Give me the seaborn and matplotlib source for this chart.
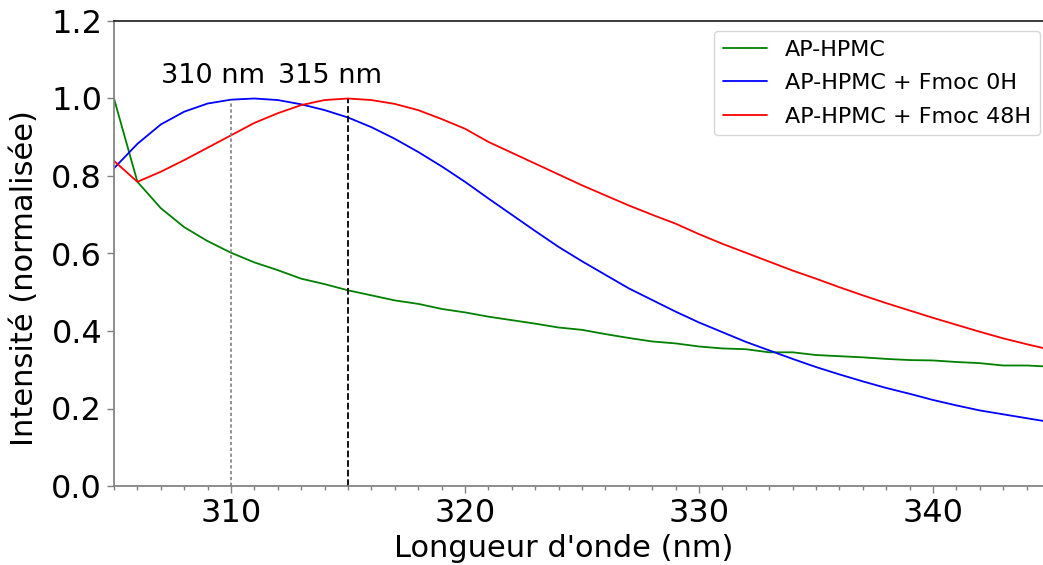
import numpy as np
import pandas as pd
import matplotlib
matplotlib.use("Agg")
import matplotlib.pyplot as plt
from matplotlib.ticker import MultipleLocator
import seaborn as sns

longueur_onde = list(range(305, 346))

ap_hpmc = [1.000, 0.785, 0.717, 0.668, 0.632, 0.602, 0.577, 0.557, 0.535, 0.521,
           0.505, 0.492, 0.479, 0.470, 0.457, 0.448, 0.437, 0.428, 0.419, 0.409,
           0.403, 0.392, 0.382, 0.373, 0.368, 0.360, 0.355, 0.353, 0.345, 0.345,
           0.338, 0.335, 0.332, 0.328, 0.325, 0.324, 0.320, 0.317, 0.311, 0.311,
           0.308]

fmoc_0h = [0.820, 0.883, 0.933, 0.966, 0.987, 0.997, 1.000, 0.996, 0.985, 0.970,
           0.951, 0.926, 0.896, 0.862, 0.825, 0.785, 0.742, 0.700, 0.658, 0.617,
           0.580, 0.545, 0.510, 0.480, 0.450, 0.422, 0.397, 0.372, 0.350, 0.328,
           0.307, 0.288, 0.270, 0.253, 0.238, 0.222, 0.208, 0.195, 0.185, 0.175,
           0.165]

fmoc_48h = [0.839, 0.785, 0.811, 0.841, 0.873, 0.905, 0.937, 0.962, 0.983, 0.996,
            1.000, 0.996, 0.986, 0.970, 0.947, 0.922, 0.888, 0.860, 0.832, 0.804,
            0.776, 0.750, 0.724, 0.700, 0.677, 0.650, 0.625, 0.602, 0.579, 0.556,
            0.535, 0.513, 0.492, 0.472, 0.453, 0.434, 0.416, 0.398, 0.381, 0.366,
            0.352]

series = ["AP-HPMC", "AP-HPMC + Fmoc 0H", "AP-HPMC + Fmoc 48H"]
couleurs = ["green", "blue", "red"]

df = pd.DataFrame({
    "nm": longueur_onde * 3,
    "val": ap_hpmc + fmoc_0h + fmoc_48h,
    "serie": [s for s in series for _ in longueur_onde],
})

sns.set_theme(style="ticks")
plt.rcParams["font.family"] = ["DejaVu Sans"]
plt.rcParams["text.color"] = "black"
plt.rcParams["axes.labelcolor"] = "black"

fig = plt.figure(figsize=(10.43, 5.65), dpi=100)
ax = fig.add_axes([114 / 1043, 79 / 565, 936 / 1043, 465 / 565])

sns.lineplot(data=df, x="nm", y="val", hue="serie", palette=couleurs,
             linewidth=1.3, ax=ax)

# pics
y310 = fmoc_0h[longueur_onde.index(310)]
y315 = fmoc_48h[longueur_onde.index(315)]
ax.vlines(310, 0, y310, colors="gray", linestyles=(0, (2, 1.5)), linewidth=1.2)
ax.vlines(315, 0, y315, colors="black", linestyles="--", linewidth=1.3)
ax.text(307, 1.04, "310 nm", fontsize=19.5, color="black")
ax.text(312, 1.04, "315 nm", fontsize=19.5, color="black")

ax.set_xlim(305, 345)
ax.set_ylim(0, 1.2)
ax.xaxis.set_major_locator(MultipleLocator(10))
ax.xaxis.set_minor_locator(MultipleLocator(1))
ax.yaxis.set_major_locator(MultipleLocator(0.2))
ax.tick_params(axis="both", which="major", labelsize=23, length=5,
               width=1, color="gray", labelcolor="black", direction="out")
ax.tick_params(axis="x", which="minor", length=3, width=1, color="gray")

ax.set_xlabel("Longueur d'onde (nm)", fontsize=22, color="black")
ax.set_ylabel("Intensité (normalisée)", fontsize=22, color="black")
ax.xaxis.set_label_coords(0.48, -0.103)
ax.yaxis.set_label_coords(-0.080, 0.447)

for side in ["left", "bottom"]:
    ax.spines[side].set_color("gray")
ax.spines["top"].set_color("#222222")
ax.spines["right"].set_color("#222222")

leg = ax.legend(fontsize=16, loc="upper right", frameon=True,
                labelspacing=0.6, borderaxespad=0.45)
for t in leg.get_texts():
    t.set_color("black")

fig.savefig("out.png", dpi=100)
